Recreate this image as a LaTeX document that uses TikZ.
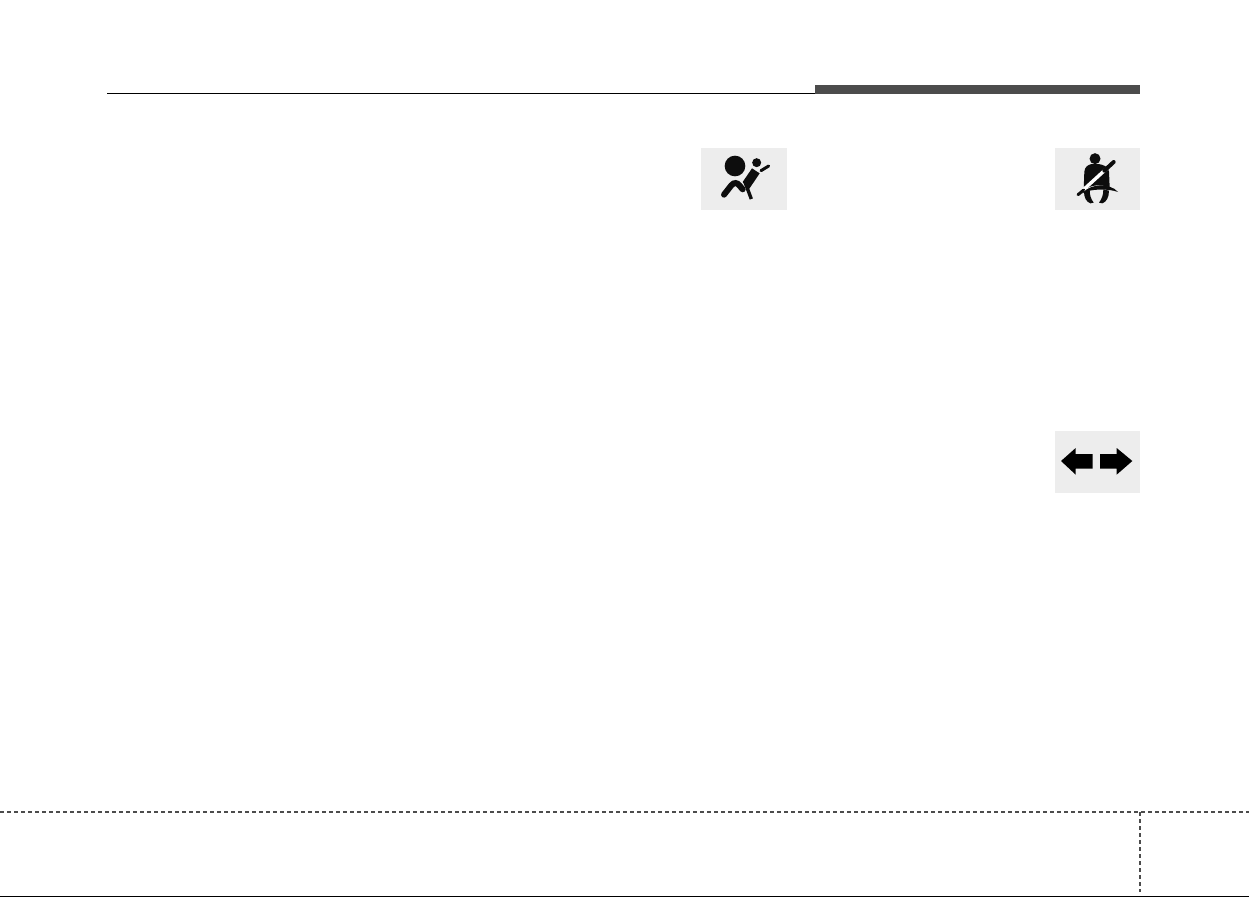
\documentclass[tikz,border=0pt]{standalone}
\begin{document}
\begin{tikzpicture}[x=1pt,y=-1pt,
  iconbox/.style={draw=none,fill=black!7,rectangle,inner sep=0pt,minimum width=#1,minimum height=62pt},
  rule/.style={draw=black!70,line width=2pt,dash pattern=on 4.4pt off 2.6pt},
  glyph/.style={fill=black!95,draw=none},
  stroke/.style={draw=black!95,line cap=round}]
\useasboundingbox (0,0) rectangle (1249,897);
\fill[white] (0,0) rectangle (1249,897);

% header
\coordinate (headL) at (107,93.5);
\node[draw=none,fill=black!70,rectangle,inner sep=0pt,minimum width=325pt,minimum height=9pt] (bar) at (977.5,89.5) {};
\draw[line width=1.2pt] (headL) -- (headL -| bar.west);

% icon boxes
\node[iconbox=86pt] (airbag) at (744,179) {};
\node[iconbox=85pt] (belt) at (1097.5,179) {};
\node[iconbox=85pt] (turn) at (1097.5,462) {};

% air bag
\begin{scope}[shift={(690,140)},scale=1/3]
\fill[glyph] (135,78) circle (31);
\fill[glyph] (200,68) circle (13.5);
\draw[stroke,line width=3pt] (213,92) -- (236,78);
\fill[glyph] (186,85) -- (209,100) -- (178,146) -- (158,126) -- cycle;
\draw[stroke,line width=6pt] (102,164) -- (124,136) .. controls (132,126) and (142,128) .. (148,136) -- (158,148);
\draw[stroke,line width=3.4pt,line cap=butt] (164,124) -- (184,177);
\end{scope}

% seat belt
\begin{scope}[shift={(1045,140)},scale=1/3]
\fill[glyph] (150,56) circle (16.5);
\fill[glyph] (116,150) -- (118,95) .. controls (119,80) and (130,74) .. (140,72) -- (160,72) .. controls (175,74) and (190,80) .. (192,95) -- (194,142) .. controls (165,132) and (140,134) .. cycle;
\draw[white,line width=3.4pt] (100,163) -- (200,72);
\draw[stroke,line width=4pt] (178,92) -- (206,66);
\fill[glyph] (112,160) .. controls (135,130) and (195,128) .. (219,156) .. controls (190,145) and (135,146) .. cycle;
\draw[stroke,line width=3pt] (99,164) -- (116,150);
\fill[glyph] (117,156) .. controls (117,172) and (124,186) .. (136,190) -- (146,188) .. controls (137,176) and (134,164) .. (134,150) -- cycle;
\fill[glyph] (192,152) .. controls (192,172) and (184,186) .. (172,190) -- (162,188) .. controls (171,176) and (175,164) .. (175,148) -- cycle;
\end{scope}

% turn signals
\begin{scope}[shift={(1045,425)},scale=1/3]
\foreach \s/\e/\h/\t/\n in {143/92/92/48/left,165/215/215/262/right} {
  \fill[black] (\s,87) -- (\e,87) -- (\h,69) -- (\t,108) -- (\h,149) -- (\e,131) -- (\s,131) -- cycle;
}
\end{scope}

% footer
\coordinate (footL) at (0,812);
\coordinate (footR) at (1249,812);
\coordinate (footT) at (1140,812);
\coordinate (footB) at (1140,892);
\coordinate (baseL) at (0,896.4);
\coordinate (baseR) at (1249,896.4);
\draw[rule] (footL) -- (footR);
\draw[rule] (footT) -- (footB);
\draw[line width=1.2pt] (baseL) -- (baseR);
\end{tikzpicture}
\end{document}
